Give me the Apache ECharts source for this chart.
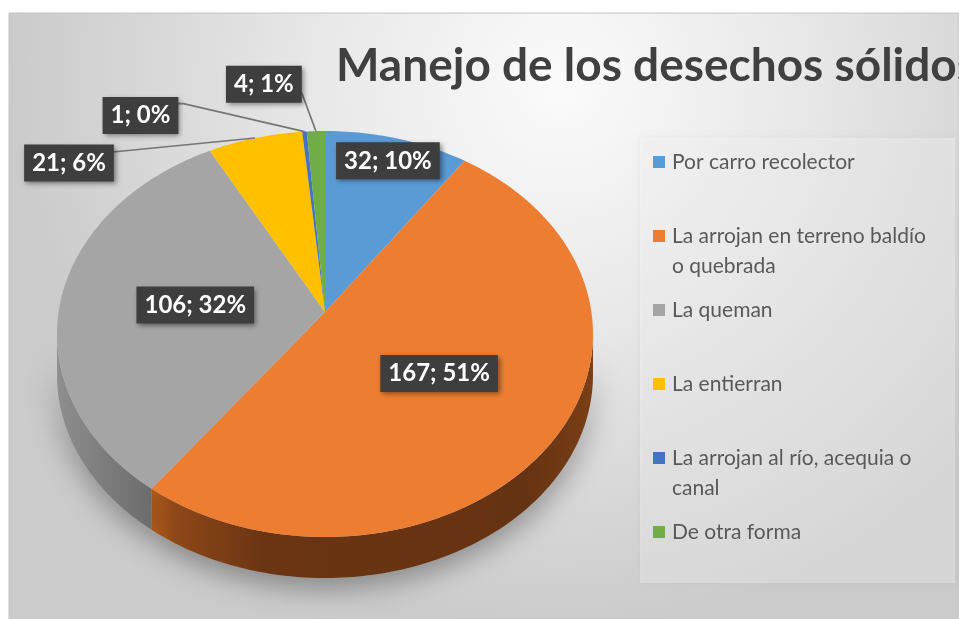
<!DOCTYPE html>
<html>
<head>
<meta charset="utf-8">
<script src="https://cdn.jsdelivr.net/npm/echarts@6/dist/echarts.min.js"></script>
<style>
  html, body { margin: 0; padding: 0; background: #ffffff; }
  #chart { width: 959px; height: 619px; }
</style>
</head>
<body>
<div id="chart"></div>
<script>
// Solid waste handling: households per method
const categories = [
  'Por carro recolector',
  'La arrojan en terreno baldío o quebrada',
  'La queman',
  'La entierran',
  'La arrojan al río, acequia o canal',
  'De otra forma'
];
const legendLabels = [
  'Por carro recolector',
  'La arrojan en terreno baldío\no quebrada',
  'La queman',
  'La entierran',
  'La arrojan al río, acequia o\ncanal',
  'De otra forma'
];
const counts = [32, 167, 106, 21, 1, 4];
const percents = [10, 51, 32, 6, 0, 1];
const chartTitle = 'Manejo de los desechos sólidos';

// Styling
const topColors = ['#5b9bd5', '#ed7d31', '#a5a5a5', '#ffc000', '#4472c4', '#70ad47'];
const sideColors = ['#2f6aa0', '#6b3513', '#7a7a7a', '#a07800', '#2a4a85', '#46752b'];
const FONT = 'Lato, "Open Sans", sans-serif';

// Tilted pie geometry (perspective projection of a disc)
const CX = 325, CY = 312, RX = 266.4, RY = 200.6, K = 0.1084, DEPTH = 41;
// front-facing rim range of the disc wall
const FRONT_A = Math.PI - Math.acos(K);
const FRONT_B = Math.PI + Math.acos(K);

// Label placement: inside labels by radial fraction, outside ones by offset from the rim
const labelLayout = [
  { inside: 0.86 },
  { inside: 0.51 },
  { inside: 0.49 },
  { dx: -186, dy: 25, ex: 44, ey: -11 },
  { dx: -164, dy: -16, ex: 43, ey: -12 },
  { dx: -52, dy: -47, ex: 38, ey: 9 }
];

const total = counts.reduce((s, v) => s + v, 0);
const angles = [];
(function () {
  let cum = 0;
  counts.forEach(v => {
    const a0 = 2 * Math.PI * cum / total;
    cum += v;
    angles.push([a0, 2 * Math.PI * cum / total]);
  });
})();

function project(theta, f) {
  const u = f * Math.sin(theta), v = -f * Math.cos(theta);
  const w = 1 - K * v;
  return [CX + RX * u / w, CY + RY * v / w];
}
function arc(a0, a1, f, dy) {
  const n = Math.max(2, Math.ceil((a1 - a0) / (Math.PI / 180)));
  const pts = [];
  for (let k = 0; k <= n; k++) {
    const p = project(a0 + (a1 - a0) * k / n, f);
    pts.push([p[0], p[1] + (dy || 0)]);
  }
  return pts;
}

function sideGradient(i) {
  if (i === 1) {
    return new echarts.graphic.LinearGradient(0, 0, 1, 0, [
      { offset: 0, color: '#bd621f' },
      { offset: 0.05, color: '#8f4818' },
      { offset: 0.25, color: '#6b3513' },
      { offset: 0.85, color: '#663312' },
      { offset: 1, color: '#7a3f16' }
    ]);
  }
  if (i === 2) {
    return new echarts.graphic.LinearGradient(0, 0, 1, 0, [
      { offset: 0, color: '#8e8e8e' },
      { offset: 1, color: '#6c6c6c' }
    ]);
  }
  return sideColors[i];
}

function renderSide(params, api) {
  const i = params.dataIndex;
  const a0 = Math.max(angles[i][0], FRONT_A);
  const a1 = Math.min(angles[i][1], FRONT_B);
  if (a1 <= a0) return null;
  const upper = arc(a0, a1, 1, 0);
  const lower = arc(a0, a1, 1, DEPTH).reverse();
  return {
    type: 'polygon',
    shape: { points: upper.concat(lower) },
    style: {
      fill: sideGradient(i),
      shadowColor: 'rgba(0,0,0,0.35)',
      shadowBlur: 28,
      shadowOffsetY: 10
    }
  };
}

function renderTop(params, api) {
  const i = params.dataIndex;
  const pts = [[CX, CY]].concat(arc(angles[i][0], angles[i][1], 1, 0));
  return {
    type: 'polygon',
    shape: { points: pts },
    style: { fill: topColors[i] }
  };
}

function renderLabel(params, api) {
  const i = params.dataIndex;
  const lay = labelLayout[i];
  const mid = (angles[i][0] + angles[i][1]) / 2;
  const children = [];
  let cx, cy;
  if (lay.inside !== undefined) {
    [cx, cy] = project(mid, lay.inside);
  } else {
    const anchor = project(mid, 1);
    cx = anchor[0] + lay.dx;
    cy = anchor[1] + lay.dy;
    const elbow = [cx + lay.ex, cy + lay.ey];
    children.push({
      type: 'polyline',
      shape: { points: [anchor, elbow, [cx, elbow[1]]] },
      style: { stroke: '#767676', lineWidth: 1.6, fill: null }
    });
  }
  children.push({
    type: 'text',
    x: cx,
    y: cy,
    style: {
      text: counts[i] + '; ' + percents[i] + '%',
      fill: '#ffffff',
      font: 'bold 24px ' + FONT,
      align: 'center',
      verticalAlign: 'middle',
      backgroundColor: '#3e3e3e',
      padding: [7, 8, 6, 8],
      shadowColor: 'rgba(0,0,0,0.45)',
      shadowBlur: 5,
      shadowOffsetX: 2,
      shadowOffsetY: 2
    }
  });
  return { type: 'group', children: children };
}

const seriesData = counts.map((v, i) => ({ value: v, name: categories[i] }));

// Legend built from the category list
const legendElements = [{
  type: 'rect',
  shape: { x: 640, y: 138, width: 315, height: 445 },
  style: {
    fill: 'rgba(255,255,255,0.32)',
    shadowColor: 'rgba(0,0,0,0.12)',
    shadowBlur: 6
  }
}];
legendLabels.forEach((label, i) => {
  const y = 162 + i * 74;
  legendElements.push({
    type: 'rect',
    shape: { x: 653, y: y - 6, width: 12, height: 12 },
    style: { fill: topColors[i] }
  });
  legendElements.push({
    type: 'text',
    x: 672,
    y: y - 15,
    style: {
      text: label,
      fill: '#595959',
      font: '21px ' + FONT,
      lineHeight: 30,
      verticalAlign: 'top'
    }
  });
});

const chart = echarts.init(document.getElementById('chart'), null, { renderer: 'canvas' });
chart.setOption({
  backgroundColor: '#ffffff',
  animation: false,
  graphic: [
    {
      type: 'rect',
      z: -10,
      shape: { x: 9, y: 13, width: 950, height: 606 },
      style: {
        fill: new echarts.graphic.RadialGradient(0.58, 0.12, 0.9, [
          { offset: 0, color: '#fbfbfb' },
          { offset: 0.45, color: '#e8e8e8' },
          { offset: 1, color: '#cbcbcb' }
        ]),
        stroke: '#c4c4c4',
        lineWidth: 1
      }
    },
    {
      type: 'text',
      x: 336,
      y: 66,
      style: {
        text: chartTitle,
        fill: '#404040',
        font: 'bold 46px ' + FONT,
        verticalAlign: 'middle'
      }
    }
  ].concat(legendElements),
  series: [
    {
      name: 'lateral',
      type: 'custom',
      coordinateSystem: 'none',
      z: 2,
      silent: true,
      renderItem: renderSide,
      data: seriesData
    },
    {
      name: 'Manejo de los desechos sólidos',
      type: 'custom',
      coordinateSystem: 'none',
      z: 3,
      renderItem: renderTop,
      data: seriesData
    },
    {
      name: 'etiquetas',
      type: 'custom',
      coordinateSystem: 'none',
      z: 4,
      silent: true,
      renderItem: renderLabel,
      data: seriesData
    }
  ]
});
</script>
</body>
</html>
